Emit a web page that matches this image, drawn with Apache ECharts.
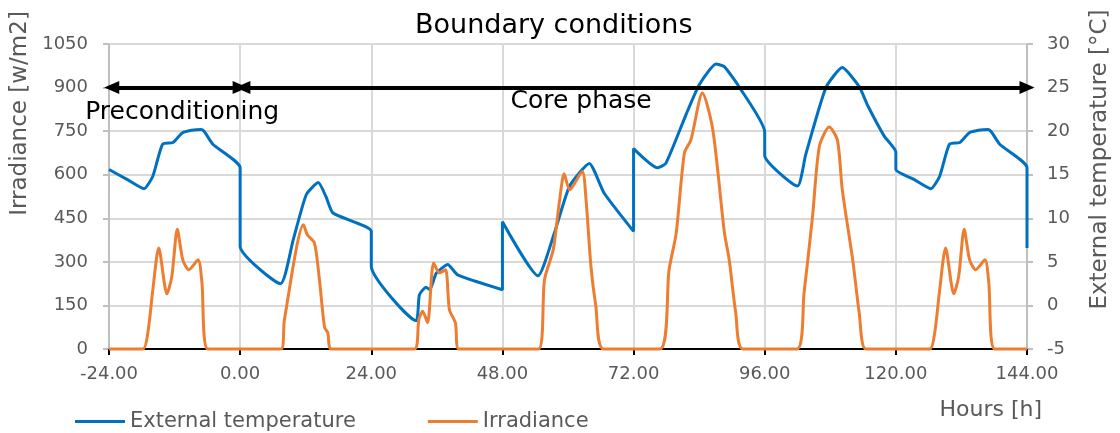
<!DOCTYPE html>
<html>
<head>
<meta charset="utf-8">
<script src="https://cdn.jsdelivr.net/npm/echarts@6/dist/echarts.min.js"></script>
<style>
  html, body { margin: 0; padding: 0; background: #ffffff; }
  #chart { width: 1120px; height: 433px; }
</style>
</head>
<body>
<div id="chart"></div>
<script>
// Hour axis ticks (h) and the two value scales
const hourTicks = [-24, 0, 24, 48, 72, 96, 120, 144];
const irradianceTicks = [0, 150, 300, 450, 600, 750, 900, 1050];
const temperatureTicks = [-5, 0, 5, 10, 15, 20, 25, 30];

// External temperature [°C] as [hour, value]; repeated hours mark the day changes
const tempPreconditioning = [
  [-24, 15.6], [-20.8, 14.5], [-17.6, 13.4], [-16.0, 14.8], [-14.2, 18.5], [-12.3, 18.7],
  [-10.6, 19.8], [-8.9, 20.1], [-7.1, 20.2], [-6.5, 19.9], [-5.0, 18.5], [0, 15.8]
];
const tempCorePhase = [
  [0, 6.8], [7.4, 2.5], [9.7, 7.5], [12.1, 12.7], [14.3, 14.1], [15.7, 12.5], [17.0, 10.6], [24, 8.5],
  [24, 4.5], [32.2, -1.75], [32.8, 1.2], [34.0, 2.1], [34.7, 1.8], [35.9, 3.7], [38.0, 4.7], [39.8, 3.5], [48, 1.8],
  [48, 9.6], [54.5, 3.4], [57.5, 8.3], [60.3, 13.7], [63.9, 16.3], [66.6, 12.9], [72, 8.5],
  [72, 18.0], [76.4, 15.8], [77.9, 16.3], [81.6, 21.9], [84.0, 25.3], [87.1, 27.7], [88.6, 27.4], [91.3, 25.1], [96, 19.9],
  [96, 17.2], [102.0, 13.7], [103.5, 17.3], [107.2, 25.0], [110.2, 27.3], [113.3, 25.1], [114.8, 23.0], [117.9, 19.4], [120, 17.6]
];
const tempLastDay = [
  [120, 15.6], [123.2, 14.5], [126.4, 13.4], [128.0, 14.8], [129.8, 18.5], [131.7, 18.7],
  [133.4, 19.8], [135.1, 20.1], [136.9, 20.2], [137.5, 19.9], [139.0, 18.5], [144, 15.8], [144, 6.6]
];

// Irradiance [W/m2] as [hour, value]
const irrPreconditioning = [
  [-24, 0], [-17.8, 0], [-16.9, 55], [-16.0, 200], [-14.9, 348], [-13.4, 190], [-12.5, 250],
  [-11.5, 412], [-10.5, 307], [-9.4, 273], [-7.7, 307], [-7.0, 230], [-5.9, 0], [0, 0]
];
const irrCorePhase = [
  [0, 0], [7.5, 0], [8.1, 101], [11.6, 428], [12.3, 393], [13.6, 365], [14.5, 240], [15.45, 75], [16.05, 55], [16.7, 0],
  [31.9, 0], [32.7, 101], [33.4, 130], [34.3, 90], [35.4, 296], [36.5, 262], [37.6, 273], [38.3, 135], [39.4, 90], [40.0, 0],
  [54.6, 0], [55.7, 239], [57.3, 342], [58.4, 503], [59.3, 603], [60.3, 548], [62.6, 611], [63.3, 514], [64.2, 284], [65.1, 147], [66.5, 0],
  [76.8, 0], [78.5, 273], [79.8, 399], [81.3, 675], [82.5, 720], [84.6, 881], [86.5, 755], [88.6, 404], [89.5, 307], [90.7, 124], [92.0, 0],
  [101.9, 0], [103.2, 193], [104.75, 456], [106.0, 697], [107.8, 764], [109.3, 720], [110.2, 548], [112.1, 307], [113.3, 124], [114.5, 0],
  [120, 0]
];
const irrLastDay = [
  [120, 0], [126.2, 0], [127.1, 55], [128.0, 200], [129.1, 348], [130.6, 190], [131.5, 250],
  [132.5, 412], [133.5, 307], [134.6, 273], [136.3, 307], [137.0, 230], [138.1, 0], [144, 0]
];

// Phase spans (hours) drawn as arrows at the 900 W/m2 level
const phaseArrowLevel = 900;
const preconditioningSpan = [-23.5, 0];
const corePhaseSpan = [0.5, 144];
const phaseLabels = [
  { name: 'Preconditioning', coord: [-10.6, 815] },
  { name: 'Core phase', coord: [62.4, 851] }
];

const FONT = 'DejaVu Sans';
const GREY_TEXT = '#595959';
const GRID_LINE = '#d9d9d9';
const AXIS_GREY = '#bfbfbf';

const chart = echarts.init(document.getElementById('chart'), null, { renderer: 'canvas' });

chart.setOption({
  backgroundColor: '#ffffff',
  animation: false,
  textStyle: { fontFamily: FONT },
  title: [
    {
      text: 'Boundary conditions',
      left: 410, top: 7,
      textStyle: { fontFamily: FONT, fontSize: 27, fontWeight: 'normal', color: '#000000' }
    },
    {
      text: 'Hours [h]',
      right: 73, top: 394,
      textStyle: { fontFamily: FONT, fontSize: 22, fontWeight: 'normal', color: GREY_TEXT }
    }
  ],
  legend: {
    data: [
      { name: 'External temperature', icon: 'rect' },
      { name: 'Irradiance', icon: 'rect' }
    ],
    left: 70, top: 406,
    itemWidth: 50, itemHeight: 3, itemGap: 72,
    textStyle: { fontFamily: FONT, fontSize: 21, color: GREY_TEXT }
  },
  grid: { left: 109, right: 93, top: 44, bottom: 84, containLabel: false, outerBoundsMode: 'none' },
  xAxis: {
    type: 'value',
    min: hourTicks[0], max: hourTicks[hourTicks.length - 1], interval: 24,
    axisLine: { show: true, onZero: false, lineStyle: { color: '#000000', width: 2 } },
    axisTick: { show: true, inside: false, length: 6, lineStyle: { color: '#000000', width: 2 } },
    axisLabel: {
      margin: 16, fontFamily: FONT, fontSize: 18, color: GREY_TEXT,
      formatter: v => v.toFixed(2)
    },
    splitLine: { show: true, lineStyle: { color: GRID_LINE, width: 2 } }
  },
  yAxis: [
    {
      type: 'value',
      min: irradianceTicks[0], max: irradianceTicks[irradianceTicks.length - 1], interval: 150,
      name: 'Irradiance [w/m2]',
      nameLocation: 'middle', nameGap: 75,
      nameTextStyle: { fontFamily: FONT, fontSize: 23, color: GREY_TEXT, padding: [0, 0, 0, 166] },
      axisLine: { show: true, onZero: false, lineStyle: { color: AXIS_GREY, width: 2 } },
      axisTick: { show: true, length: 6, lineStyle: { color: AXIS_GREY, width: 2 } },
      axisLabel: { margin: 21, fontFamily: FONT, fontSize: 18, color: GREY_TEXT, formatter: v => String(v) },
      splitLine: { show: true, lineStyle: { color: GRID_LINE, width: 2 } }
    },
    {
      type: 'value',
      min: temperatureTicks[0], max: temperatureTicks[temperatureTicks.length - 1], interval: 5,
      name: 'External temperature [°C]',
      nameLocation: 'middle', nameGap: 62,
      nameTextStyle: { fontFamily: FONT, fontSize: 23, color: GREY_TEXT, padding: [0, 0, 0, 74] },
      axisLine: { show: true, onZero: false, lineStyle: { color: AXIS_GREY, width: 2 } },
      axisTick: { show: true, length: 6, lineStyle: { color: AXIS_GREY, width: 2 } },
      axisLabel: { margin: 20, fontFamily: FONT, fontSize: 18, color: GREY_TEXT, formatter: v => String(v) },
      splitLine: { show: false }
    }
  ],
  series: [
    {
      name: 'External temperature',
      type: 'line',
      yAxisIndex: 1,
      data: tempPreconditioning.concat(tempCorePhase, tempLastDay),
      smooth: 0.18,
      symbol: 'none',
      clip: false,
      z: 3,
      lineStyle: { color: '#0070C0', width: 3 },
      itemStyle: { color: '#0070C0' }
    },
    {
      name: 'Irradiance',
      type: 'line',
      yAxisIndex: 0,
      data: irrPreconditioning.concat(irrCorePhase, irrLastDay),
      smooth: 0.25,
      symbol: 'none',
      clip: false,
      z: 4,
      lineStyle: { color: '#ED7D31', width: 3 },
      itemStyle: { color: '#ED7D31' },
      markLine: {
        silent: true,
        symbol: ['triangle', 'triangle'],
        symbolSize: [13, 15],
        label: { show: false },
        lineStyle: { color: '#000000', width: 4, type: 'solid' },
        emphasis: { disabled: true },
        data: [
          [{ coord: [preconditioningSpan[0], phaseArrowLevel] }, { coord: [preconditioningSpan[1], phaseArrowLevel] }],
          [{ coord: [corePhaseSpan[0], phaseArrowLevel] }, { coord: [corePhaseSpan[1], phaseArrowLevel] }]
        ]
      },
      markPoint: {
        silent: true,
        symbol: 'circle',
        symbolSize: 0,
        label: {
          show: true, position: 'inside', formatter: '{b}',
          fontFamily: FONT, fontSize: 25, color: '#000000'
        },
        data: phaseLabels.map(p => ({ name: p.name, coord: p.coord }))
      }
    }
  ]
});
</script>
</body>
</html>
